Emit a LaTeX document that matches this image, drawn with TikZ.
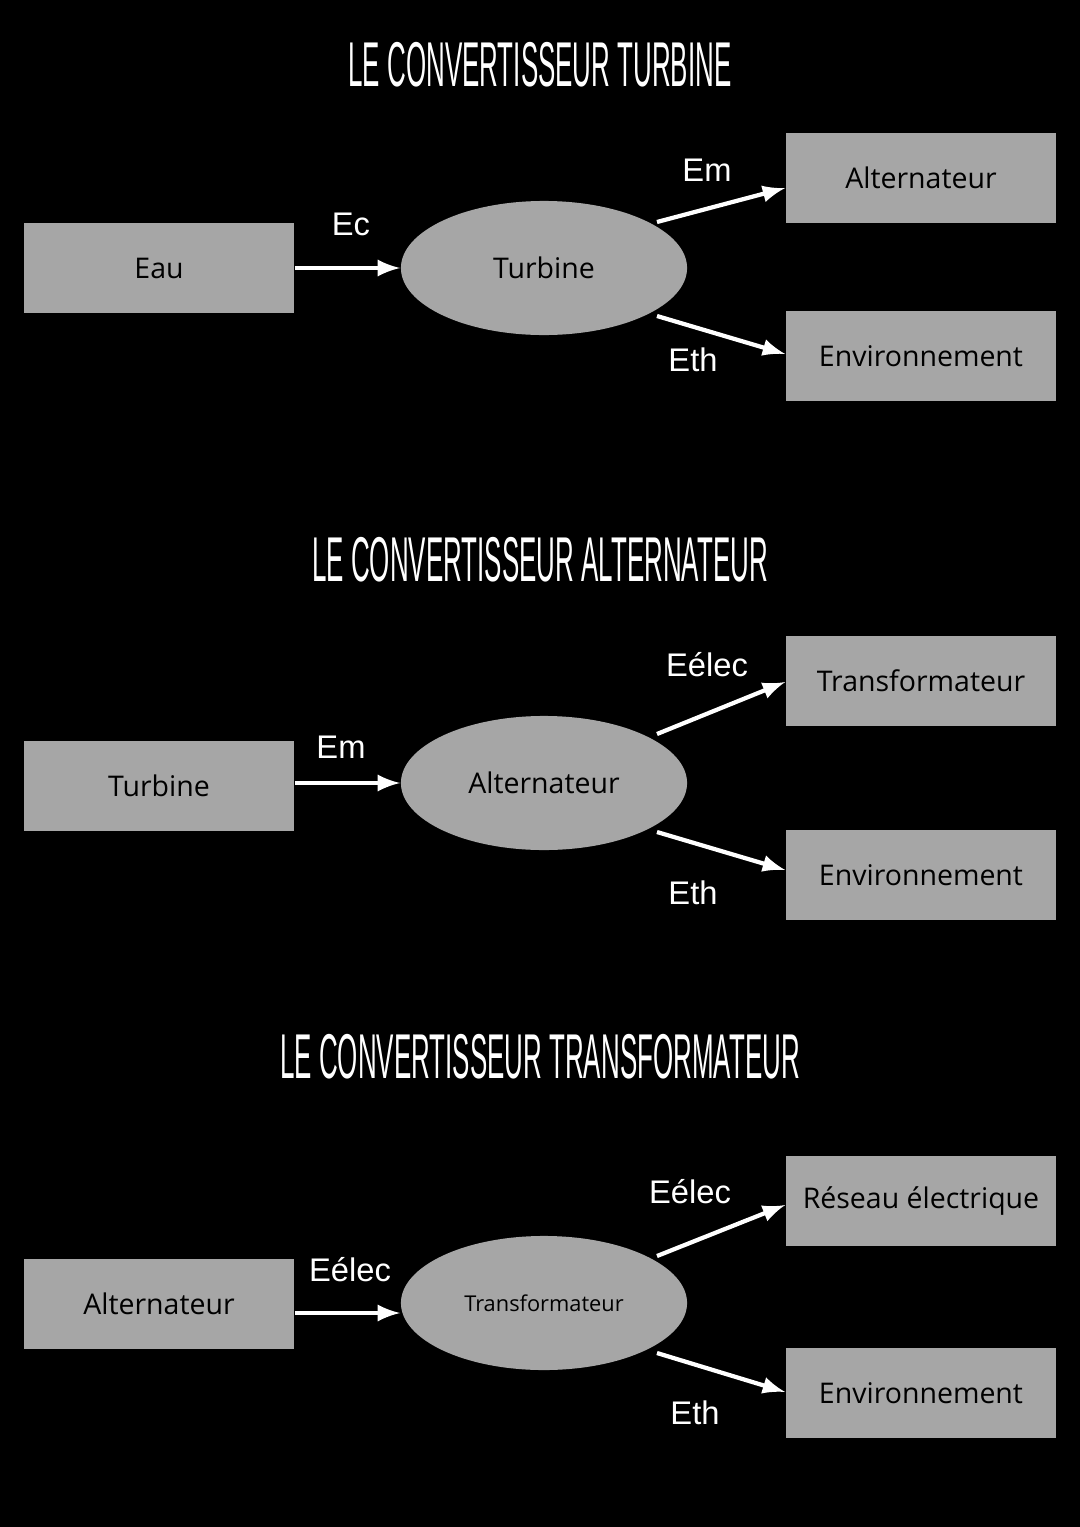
\documentclass[tikz,border=0pt]{standalone}
\usepackage{fontspec}
\setmainfont{Open Sans}
\newfontfamily\labelfont{Liberation Sans}
\newfontfamily\titlefont{Liberation Sans}
\usetikzlibrary{positioning,shapes.geometric}

\tikzset{
  boite/.style={draw=none, fill=boxgray, minimum width=2.7cm, minimum height=0.9cm, inner sep=0pt, font=\fontsize{8.1}{10}\selectfont},
  conv/.style={ellipse, fill=boxgray, minimum width=2.86cm, minimum height=1.34cm, inner sep=0pt, font=\fontsize{8.1}{10}\selectfont},
  fleche/.style={draw=white, line width=1.2pt, -latex},
  energie/.style={text=white, font=\labelfont\fontsize{9.3}{11}\selectfont},
  titre/.style={text=white, font=\titlefont\fontsize{18}{22}\selectfont, xscale=0.41}
}
\definecolor{boxgray}{HTML}{A6A6A6}

\begin{document}
\begin{tikzpicture}[x=0.01cm, y=-0.01cm]
\fill[black] (0,0) rectangle (1080,1527);
\useasboundingbox (0,0) rectangle (1080,1527);

% turbine
\node[titre] (t1) at (540,65) {LE CONVERTISSEUR TURBINE};
\node[boite] (eau) at (159,268) {Eau};
\node[conv] (turb) at (544,268) {Turbine};
\node[boite] (alt1) at (921,178) {Alternateur};
\node[boite] (env1) at (921,356) {Environnement};
\coordinate (turbh) at (657,222);
\coordinate (turbb) at (657,316);
\draw[fleche] (eau.east) -- (turb.west);
\draw[fleche] (turbh) -- (alt1.west |- 0,188);
\draw[fleche] (turbb) -- (env1.west |- 0,354);
\node[energie] (ec) at (351,224) {Ec};
\node[energie] (em1) at (707,170) {Em};
\node[energie] (eth1) at (693,360) {Eth};

% alternateur
\node[titre] (t2) at (540,560) {LE CONVERTISSEUR ALTERNATEUR};
\node[boite] (turb2) at (159,786) {Turbine};
\node[conv] (alt) at (544,783) {Alternateur};
\node[boite] (trans2) at (921,681) {Transformateur};
\node[boite] (env2) at (921,875) {Environnement};
\coordinate (alth) at (657,734);
\coordinate (altb) at (657,832);
\draw[fleche] (turb2.east |- 0,783) -- (alt.west);
\draw[fleche] (alth) -- (trans2.west |- 0,682);
\draw[fleche] (altb) -- (env2.west |- 0,870);
\node[energie] (em2) at (341,747) {Em};
\node[energie] (eel2) at (707,665) {Eélec};
\node[energie] (eth2) at (693,893) {Eth};

% transformateur
\node[titre] (t3) at (540,1057) {LE CONVERTISSEUR TRANSFORMATEUR};
\node[boite] (alt3) at (159,1304) {Alternateur};
\node[conv, font=\fontsize{6.2}{8}\selectfont] (trans) at (544,1303) {Transformateur};
\node[boite] (res) at (921,1201) {Réseau électrique};
\node[boite] (env3) at (921,1393) {Environnement};
\coordinate (transh) at (657,1256);
\coordinate (transb) at (657,1353);
\draw[fleche] (alt3.east |- 0,1313) -- (trans.west |- 0,1313);
\draw[fleche] (transh) -- (res.west |- 0,1205);
\draw[fleche] (transb) -- (env3.west |- 0,1392);
\node[energie] (eel3a) at (350,1270) {Eélec};
\node[energie] (eel3b) at (690,1192) {Eélec};
\node[energie] (eth3) at (695,1413) {Eth};
\end{tikzpicture}
\end{document}
